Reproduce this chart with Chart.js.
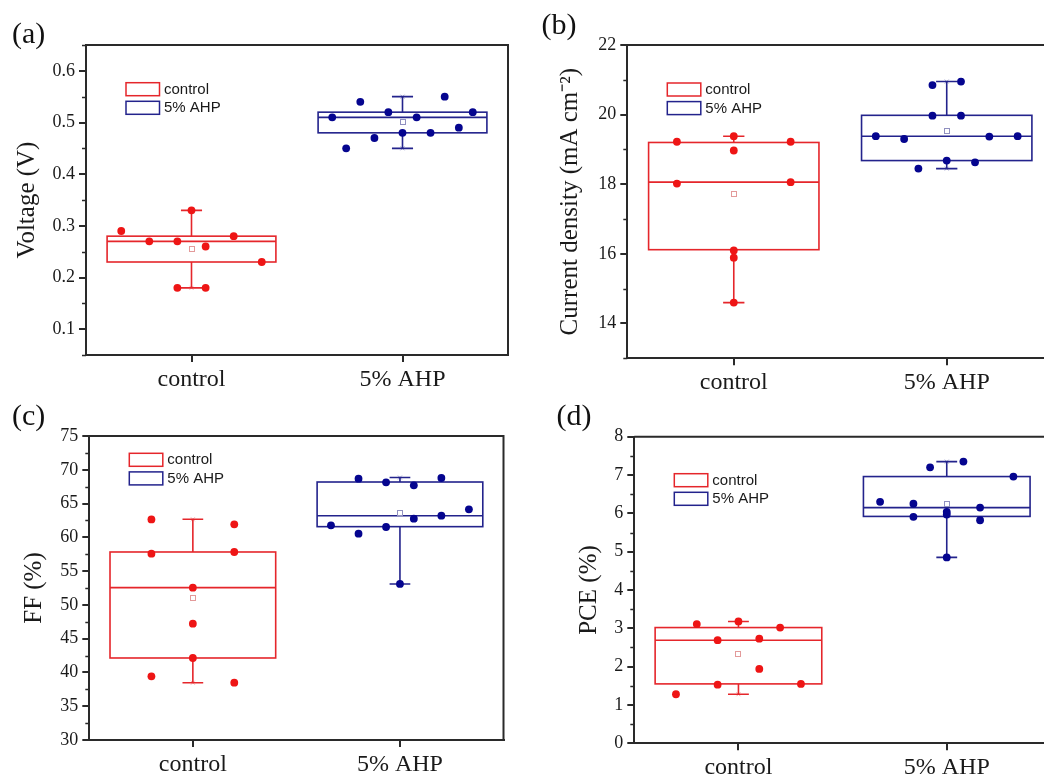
<!DOCTYPE html>
<html>
<head>
<meta charset="utf-8">
<script src="https://cdn.jsdelivr.net/npm/chart.js@4.4.1/dist/chart.umd.min.js"></script>
<style>
    html, body { margin: 0; padding: 0; background: #fff; overflow: hidden; width: 1044px; height: 780px; position: relative; }
    canvas { position: absolute; }
</style>
</head>
<body>
<canvas id="chartA" width="522" height="390" style="left:0;top:0"></canvas>
<canvas id="chartB" width="540" height="390" style="left:522px;top:0"></canvas>
<canvas id="chartC" width="522" height="390" style="left:0;top:390px"></canvas>
<canvas id="chartD" width="540" height="390" style="left:522px;top:390px"></canvas>
<script>
// ==================== DATA ====================
const groups = ['control', '5% AHP'];

// (a) Voltage (V)
const vocTicks = [0.1, 0.2, 0.3, 0.4, 0.5, 0.6];
const vocCtrlJitter = [-0.333, -0.2, -0.067, -0.067, 0, 0.067, 0.067, 0.2, 0.333];
const vocCtrl = [0.29, 0.27, 0.27, 0.18, 0.33, 0.26, 0.18, 0.28, 0.23];
const vocAhpJitter = [-0.333, -0.267, -0.2, -0.133, -0.067, 0, 0.067, 0.133, 0.2, 0.267, 0.333];
const vocAhp = [0.51, 0.45, 0.54, 0.47, 0.52, 0.48, 0.51, 0.48, 0.55, 0.49, 0.52];
// [min, q1, median, q3, max]
const vocCtrlBox = [0.18, 0.23, 0.27, 0.28, 0.33];
const vocAhpBox = [0.45, 0.48, 0.51, 0.52, 0.55];

// (b) Current density (mA cm-2)
const jscTicks = [14, 16, 18, 20, 22];
const jscCtrlJitter = [-0.267, -0.267, 0, 0, 0, 0, 0, 0.267, 0.267];
const jscCtrl = [19.22, 18.02, 19.38, 18.97, 16.1, 15.89, 14.6, 19.22, 18.06];
const jscAhpJitter = [-0.333, -0.2, -0.133, -0.067, -0.067, 0, 0.067, 0.067, 0.133, 0.2, 0.333];
const jscAhp = [19.38, 19.30, 18.45, 20.85, 19.97, 18.68, 20.95, 19.97, 18.63, 19.37, 19.38];
const jscCtrlBox = [14.6, 16.12, 18.06, 19.2, 19.38];
const jscAhpBox = [18.45, 18.68, 19.38, 19.98, 20.95];

// (c) FF (%)
const ffTicks = [30, 35, 40, 45, 50, 55, 60, 65, 70, 75];
const ffCtrlJitter = [-0.2, -0.2, -0.2, 0, 0, 0, 0.2, 0.2, 0.2];
const ffCtrl = [62.65, 57.58, 39.43, 52.55, 47.22, 42.14, 61.93, 57.83, 38.48];
const ffAhpJitter = [-0.333, -0.2, -0.2, -0.067, -0.067, 0, 0.067, 0.067, 0.2, 0.2, 0.333];
const ffAhp = [61.78, 68.68, 60.54, 68.14, 61.53, 53.1, 67.7, 62.76, 68.78, 63.2, 64.15];
const ffCtrlBox = [38.48, 42.14, 52.55, 57.83, 62.67];
const ffAhpBox = [53.1, 61.58, 63.2, 68.19, 68.85];

// (d) PCE (%)
const pceTicks = [0, 1, 2, 3, 4, 5, 6, 7, 8];
const pceCtrlJitter = [-0.3, -0.2, -0.1, -0.1, 0, 0.1, 0.1, 0.2, 0.3];
const pceCtrl = [1.28, 3.11, 2.69, 1.53, 3.18, 2.73, 1.94, 3.02, 1.55];
const pceAhpJitter = [-0.32, -0.16, -0.16, -0.08, 0, 0, 0, 0.08, 0.16, 0.16, 0.32];
const pceAhp = [6.30, 6.25, 5.91, 7.2, 6.04, 5.97, 4.85, 7.35, 6.15, 5.82, 6.96];
const pceCtrlBox = [1.28, 1.55, 2.69, 3.02, 3.18];
const pceAhpBox = [4.85, 5.92, 6.15, 6.96, 7.35];

// ==================== STYLE ====================
const RED_PT = '#ee1515';
const BLUE_PT = '#05058f';
const RED_BOX = '#e5262b';
const BLUE_BOX = '#23238c';
const AXIS = '#2a2a2a';
const SERIF = '"Liberation Serif", "Times New Roman", serif';
const SANS = '"Liberation Sans", Arial, sans-serif';

const mean = arr => arr.reduce((a, b) => a + b, 0) / arr.length;

// ==================== PLUGINS ====================
const boxPlugin = {
    id: 'boxPlot',
    beforeDatasetsDraw(chart, args, opts) {
        const { ctx, scales: { x, y } } = chart;
        ctx.save();
        opts.boxes.forEach(b => {
            const [mn, q1, md, q3, mx] = b.stats;
            const xl = x.getPixelForValue(b.pos - 0.4);
            const xr = x.getPixelForValue(b.pos + 0.4);
            const xc = x.getPixelForValue(b.pos);
            const cl = x.getPixelForValue(b.pos - 0.05);
            const cr = x.getPixelForValue(b.pos + 0.05);
            ctx.strokeStyle = b.color;
            ctx.lineWidth = 1.6;
            ctx.strokeRect(xl, y.getPixelForValue(q3), xr - xl, y.getPixelForValue(q1) - y.getPixelForValue(q3));
            ctx.beginPath();
            ctx.moveTo(xl, y.getPixelForValue(md));
            ctx.lineTo(xr, y.getPixelForValue(md));
            // whiskers
            ctx.moveTo(xc, y.getPixelForValue(q3));
            ctx.lineTo(xc, y.getPixelForValue(mx));
            ctx.moveTo(xc, y.getPixelForValue(q1));
            ctx.lineTo(xc, y.getPixelForValue(mn));
            ctx.moveTo(cl, y.getPixelForValue(mx));
            ctx.lineTo(cr, y.getPixelForValue(mx));
            ctx.moveTo(cl, y.getPixelForValue(mn));
            ctx.lineTo(cr, y.getPixelForValue(mn));
            ctx.stroke();
            // 1% / 99% crosses (faint)
            ctx.globalAlpha = 0.55;
            ctx.lineWidth = 0.7;
            ctx.beginPath();
            [mn, mx].forEach(v => {
                const py = y.getPixelForValue(v);
                ctx.moveTo(xc - 2, py - 2); ctx.lineTo(xc + 2, py + 2);
                ctx.moveTo(xc + 2, py - 2); ctx.lineTo(xc - 2, py + 2);
            });
            ctx.stroke();
            ctx.globalAlpha = 1;
            // mean
            const my = y.getPixelForValue(b.mean);
            ctx.strokeStyle = b.meanColor;
            ctx.lineWidth = 1;
            ctx.strokeRect(Math.round(xc) - 2.5, Math.round(my) - 2.5, 5, 5);
        });
        ctx.restore();
    }
};

const framePlugin = {
    id: 'frame',
    afterDraw(chart, args, opts) {
        const { ctx, chartArea: a, scales: { y } } = chart;
        ctx.save();
        // top and right border
        ctx.strokeStyle = AXIS;
        ctx.lineWidth = 2;
        ctx.beginPath();
        ctx.moveTo(a.left, a.top);
        ctx.lineTo(a.right, a.top);
        ctx.lineTo(a.right, a.bottom);
        ctx.stroke();
        // minor ticks
        const t = opts.ticks;
        const half = (t[1] - t[0]) / 2;
        ctx.lineWidth = 1.5;
        ctx.beginPath();
        for (let v = t[0] - half; v <= y.max + 1e-9; v += 2 * half) {
            if (v < y.min - 1e-9) continue;
            const py = Math.round(y.getPixelForValue(v)) + 0.5;
            ctx.moveTo(a.left - 4, py);
            ctx.lineTo(a.left, py);
        }
        ctx.stroke();
        // panel label
        ctx.fillStyle = '#111';
        ctx.font = '30px ' + SERIF;
        ctx.textBaseline = 'alphabetic';
        ctx.textAlign = 'left';
        ctx.fillText(opts.label, opts.labelPos[0], opts.labelPos[1]);
        // legend
        const lx = a.left + 40;
        const ly = a.top + opts.legendDy;
        [[RED_BOX, groups[0]], [BLUE_BOX, groups[1]]].forEach(([c, txt], i) => {
            const yy = ly + i * 18.6;
            ctx.strokeStyle = c;
            ctx.lineWidth = 1.5;
            ctx.strokeRect(lx, yy, 33.5, 13);
            ctx.fillStyle = '#1a1a1a';
            ctx.font = '15px ' + SANS;
            ctx.textBaseline = 'middle';
            ctx.fillText(txt, lx + 38, yy + 7);
        });
        ctx.restore();
    }
};

// ==================== PANELS ====================
function makePanel(id, p) {
    const canvas = document.getElementById(id);
    const area = p.area; // left, top, right, bottom
    const pts = (vals, jit, pos) => vals.map((v, i) => ({ x: pos + jit[i], y: v }));
    return new Chart(canvas, {
        type: 'scatter',
        data: {
            datasets: [
                { label: groups[0], data: pts(p.ctrl, p.ctrlJitter, 1), backgroundColor: RED_PT, pointRadius: 3.9, pointHoverRadius: 3.9, pointBorderWidth: 0 },
                { label: groups[1], data: pts(p.ahp, p.ahpJitter, 2), backgroundColor: BLUE_PT, pointRadius: 3.9, pointHoverRadius: 3.9, pointBorderWidth: 0 }
            ]
        },
        options: {
            responsive: false,
            animation: false,
            devicePixelRatio: 1,
            layout: { padding: { left: 0, top: area[1], right: canvas.width - area[2], bottom: 0 } },
            plugins: {
                legend: { display: false },
                tooltip: { enabled: false },
                boxPlot: {
                    boxes: [
                        { pos: 1, stats: p.ctrlBox, mean: mean(p.ctrl), color: RED_BOX, meanColor: '#e39a9a' },
                        { pos: 2, stats: p.ahpBox, mean: mean(p.ahp), color: BLUE_BOX, meanColor: '#9090c0' }
                    ]
                },
                frame: { ticks: p.ticks, label: p.label, labelPos: p.labelPos, legendDy: p.legendDy }
            },
            scales: {
                x: {
                    type: 'linear',
                    min: 0.5,
                    max: 2.5,
                    afterBuildTicks: s => { s.ticks = [{ value: 1 }, { value: 2 }]; },
                    afterFit: s => { s.height = canvas.height - area[3]; },
                    ticks: {
                        callback: v => groups[v - 1],
                        font: { family: SERIF, size: 24 },
                        color: '#1a1a1a',
                        padding: 3,
                        maxRotation: 0,
                        autoSkip: false
                    },
                    grid: { drawOnChartArea: false, tickLength: 7, color: AXIS, lineWidth: 2 },
                    border: { color: AXIS, width: 2 }
                },
                y: {
                    type: 'linear',
                    min: p.min,
                    max: p.max,
                    afterBuildTicks: s => { s.ticks = p.ticks.map(v => ({ value: v })); },
                    afterFit: s => { s.width = area[0]; },
                    ticks: {
                        callback: v => p.fmt(v),
                        font: { family: SERIF, size: 18 },
                        color: '#1a1a1a',
                        padding: 4,
                        autoSkip: false
                    },
                    grid: { drawOnChartArea: false, tickLength: 7, color: AXIS, lineWidth: 2 },
                    border: { color: AXIS, width: 2 },
                    title: {
                        display: true,
                        text: p.title,
                        font: { family: SERIF, size: 25 },
                        color: '#1a1a1a',
                        padding: { top: p.titlePad, bottom: 0 }
                    }
                }
            }
        },
        plugins: [boxPlugin, framePlugin]
    });
}

makePanel('chartA', {
    area: [86, 45, 508, 355], min: 0.05, max: 0.65, ticks: vocTicks, fmt: v => v.toFixed(1),
    title: 'Voltage (V)', titlePad: 12, label: '(a)', labelPos: [12, 43], legendDy: 37.7,
    ctrl: vocCtrl, ctrlJitter: vocCtrlJitter, ahp: vocAhp, ahpJitter: vocAhpJitter,
    ctrlBox: vocCtrlBox, ahpBox: vocAhpBox
});
makePanel('chartB', {
    area: [105.3, 45, 531.2, 358.3], min: 13, max: 22, ticks: jscTicks, fmt: v => String(v),
    title: 'Current density (mA cm\u207B\u00B2)', titlePad: 33, label: '(b)', labelPos: [19.5, 33.5], legendDy: 38,
    ctrl: jscCtrl, ctrlJitter: jscCtrlJitter, ahp: jscAhp, ahpJitter: jscAhpJitter,
    ctrlBox: jscCtrlBox, ahpBox: jscAhpBox
});
makePanel('chartC', {
    area: [89.3, 46, 503.5, 350], min: 30, max: 75, ticks: ffTicks, fmt: v => String(v),
    title: 'FF (%)', titlePad: 19, label: '(c)', labelPos: [12, 35], legendDy: 17.3,
    ctrl: ffCtrl, ctrlJitter: ffCtrlJitter, ahp: ffAhp, ahpJitter: ffAhpJitter,
    ctrlBox: ffCtrlBox, ahpBox: ffAhpBox
});
makePanel('chartD', {
    area: [112.3, 46.7, 528.9, 353.3], min: 0, max: 8, ticks: pceTicks, fmt: v => String(v),
    title: 'PCE (%)', titlePad: 52, label: '(d)', labelPos: [34.5, 35], legendDy: 37,
    ctrl: pceCtrl, ctrlJitter: pceCtrlJitter, ahp: pceAhp, ahpJitter: pceAhpJitter,
    ctrlBox: pceCtrlBox, ahpBox: pceAhpBox
});
</script>
</body>
</html>
